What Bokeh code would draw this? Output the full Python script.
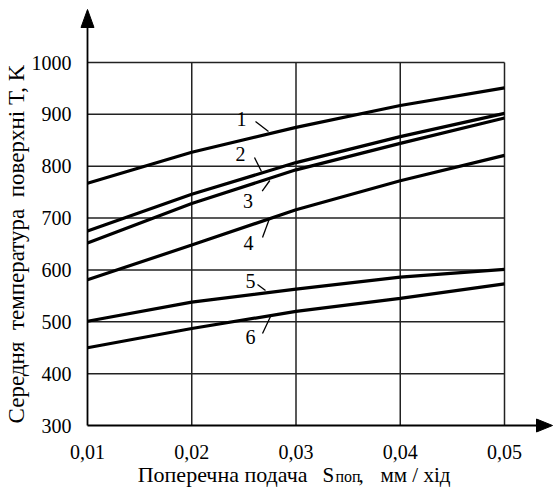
import math
from bokeh.plotting import figure
from bokeh.models import Range1d
from bokeh.core.properties import value
from bokeh.embed import file_html
from bokeh.resources import INLINE

# ---- data ----
S_FEED = [0.01, 0.02, 0.03, 0.04, 0.05]
T1 = [767, 827, 875, 917, 951]
T2 = [675, 746, 807, 857, 902]
T3 = [652, 728, 793, 844, 893]
T4 = [581, 648, 716, 772, 821]
T5 = [501, 538, 563, 586, 601]
T6 = [450, 487, 520, 545, 573]
SERIES = [T1, T2, T3, T4, T5, T6]
CURVE_NAMES = ["1", "2", "3", "4", "5", "6"]
X_TICKS = [0.01, 0.02, 0.03, 0.04, 0.05]
X_TICK_LABELS = ["0,01", "0,02", "0,03", "0,04", "0,05"]
Y_TICKS = [300, 400, 500, 600, 700, 800, 900, 1000]
Y_TICK_LABELS = ["300", "400", "500", "600", "700", "800", "900", "1000"]
NB = "\u00a0"
X_TITLE_PARTS = ["Поперечна подача", "S", "поп", ",", "мм / хід"]
Y_TITLE = "Середня" + NB * 2 + "температура" + NB * 2 + "поверхні T, K"

FONT = value("Liberation Serif")
W, H = 553, 490
XS = 10425.0      # px per unit (x)
YS = 363.0 / 700  # px per unit (y)
PX0, PY0 = 87, 425  # pixel position of (0.01, 300)

xa, xb = X_TICKS[0], X_TICKS[-1]
ya, yb = Y_TICKS[0], Y_TICKS[-1]
x0 = xa - PX0 / XS
x1 = x0 + W / XS
y0 = ya - (H - PY0) / YS
y1 = y0 + H / YS

p = figure(width=W, height=H, output_backend="svg", toolbar_location=None,
           x_range=Range1d(x0, x1), y_range=Range1d(y0, y1),
           min_border=0, min_border_left=0, min_border_right=0,
           min_border_top=0, min_border_bottom=0)
p.outline_line_color = None
p.grid.visible = False
p.axis.visible = False
p.background_fill_color = "white"
p.border_fill_color = "white"


def px2d(px, py):
    return (xa + (px - PX0) / XS, ya + (PY0 - py) / YS)


# grid
p.segment(x0=X_TICKS[1:], y0=[ya] * 4, x1=X_TICKS[1:], y1=[yb] * 4,
          line_color="#222222", line_width=1.5)
p.segment(x0=[xa] * 7, y0=Y_TICKS[1:], x1=[xb] * 7, y1=Y_TICKS[1:],
          line_color="#222222", line_width=1.5)

# axes with arrows
_, ytip = px2d(0, 9)
_, ybase = px2d(0, 27)
xtip, _ = px2d(552, 0)
xbase, _ = px2d(536, 0)
p.line([xa, xa], [ya, ybase], line_color="black", line_width=1.8)
p.line([xa, xbase], [ya, ya], line_color="black", line_width=1.8)
hw = 6.5
p.patch([xa - hw / XS, xa, xa + hw / XS], [ybase, ytip, ybase], color="black")
p.patch([xbase, xtip, xbase], [ya - hw / YS, ya, ya + hw / YS], color="black")

# tick labels
_, ylab = px2d(0, 451)
p.text(x=X_TICKS, y=[ylab] * len(X_TICKS), text=X_TICK_LABELS, text_font=FONT,
       text_font_size="20px", text_align="center", text_baseline="middle",
       text_color="black")
xr, _ = px2d(71, 0)
p.text(x=[xr] * len(Y_TICKS), y=Y_TICKS, text=Y_TICK_LABELS, text_font=FONT,
       text_font_size="20px", text_align="right", text_baseline="middle",
       text_color="black")

# curves
for s in SERIES:
    p.line(S_FEED, s, line_color="black", line_width=3.2)

# curve labels and leaders (pixel positions)
label_pos = [(241, 118), (240, 153), (247.5, 200.5), (248, 242), (250, 280), (250, 336)]
leaders = [((255, 121), (268, 131)), ((254, 157), (261, 171)), ((261.7, 190.7), (269.3, 180)),
           ((262, 237), (269, 218)), ((257, 284), (265, 290)), ((262, 333), (270, 316))]
lx = [px2d(*q)[0] for q in label_pos]
ly = [px2d(*q)[1] for q in label_pos]
p.text(x=lx, y=ly, text=CURVE_NAMES, text_font=FONT, text_font_size="20px",
       text_align="center", text_baseline="middle", text_color="black")
p.segment(x0=[px2d(*a)[0] for a, b in leaders], y0=[px2d(*a)[1] for a, b in leaders],
          x1=[px2d(*b)[0] for a, b in leaders], y1=[px2d(*b)[1] for a, b in leaders],
          line_color="black", line_width=1.3)

# y axis title
yx, yy = px2d(16, 243.5)
p.text(x=[yx], y=[yy], text=[Y_TITLE], angle=math.pi / 2, text_font=FONT,
       text_font_size="23px", text_align="center", text_baseline="middle",
       text_color="black")

# x axis title (pieces)
ty = 474
piece_x = [307, 322, 335, 358, 380]
piece_align = ["right", "left", "left", "left", "left"]
piece_size = ["22px", "21px", "16px", "21px", "21px"]
piece_dy = [0, 0, 2, 0, 0]
for t, px_, al, fs, dy in zip(X_TITLE_PARTS, piece_x, piece_align, piece_size, piece_dy):
    bx, by = px2d(px_, ty + dy)
    p.text(x=[bx], y=[by], text=[t], text_font=FONT, text_font_size=fs,
           text_align=al, text_baseline="middle", text_color="black")

open("out.html", "w").write(file_html(p, INLINE))
